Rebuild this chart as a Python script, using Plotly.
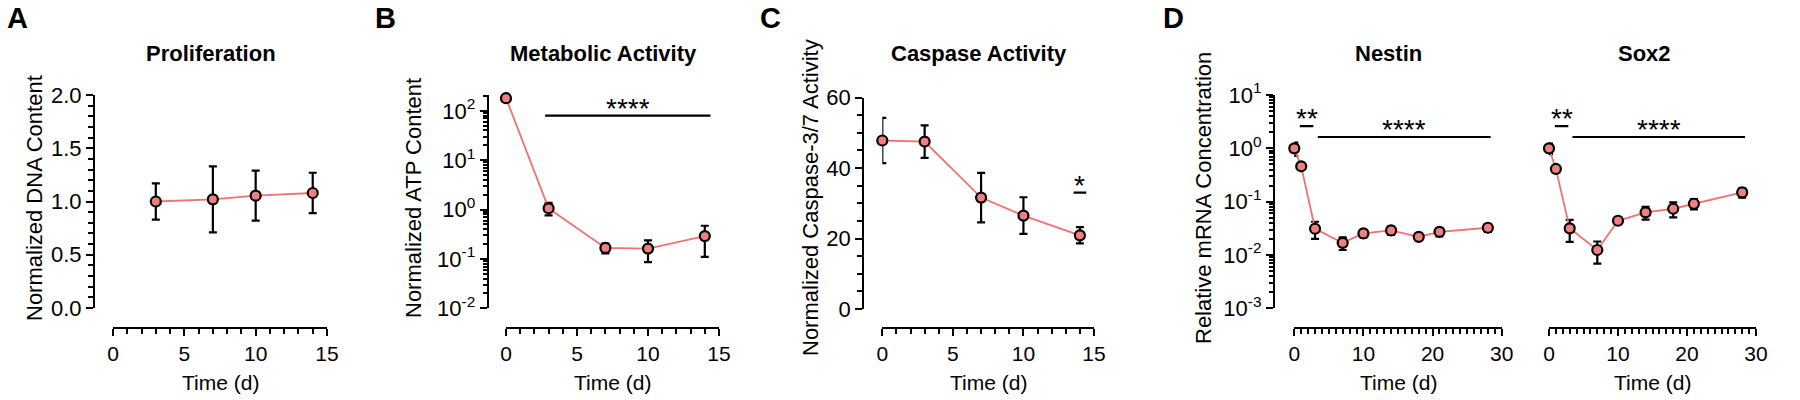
import numpy as np
import plotly.graph_objects as go

# ---------------- data ----------------
# Panel A - Proliferation
prolif_days = [3, 7, 10, 14]
prolif_mean = [1.00, 1.02, 1.055, 1.08]
prolif_sd = [0.17, 0.31, 0.235, 0.19]

# Panel B - Metabolic activity (ATP)
atp_days = [0, 3, 7, 10, 14]
atp_mean = [180, 1.06, 0.167, 0.162, 0.29]
atp_sd = [8, 0.30, 0.037, 0.076, 0.18]

# Panel C - Caspase activity
casp_days = [0, 3, 7, 10, 14]
casp_mean = [47.8, 47.5, 31.6, 26.5, 20.9]
casp_sd = [6.4, 4.6, 7.0, 5.2, 2.3]

# Panel D - mRNA
mrna_days = [0, 1, 3, 7, 10, 14, 18, 21, 28]
nestin_mean = [1.0, 0.46, 0.031, 0.0169, 0.0254, 0.0289, 0.0219, 0.0272, 0.0324]
nestin_sd = [0.28, 0.03, 0.011, 0.0045, 0.004, 0.005, 0.0015, 0.0048, 0.0054]
sox2_mean = [1.0, 0.41, 0.0316, 0.0124, 0.0438, 0.063, 0.0736, 0.0914, 0.149]
sox2_sd = [0.22, 0.03, 0.014, 0.0055, 0.003, 0.017, 0.023, 0.02, 0.03]

# significance bars
sig_panel = ["B", "C", "Nestin", "Nestin", "Sox2", "Sox2"]
sig_x0 = [2.75, 13.55, 0.8, 3.4, 0.85, 3.4]
sig_x1 = [14.4, 14.45, 2.75, 28.4, 2.8, 28.4]
sig_y = [80, 33, 2.6, 1.63, 2.6, 1.63]
sig_label = ["****", "*", "**", "****", "**", "****"]

log_ticks = [1e-3, 1e-2, 1e-1, 1, 10, 100]
log_ticktext = ["10<sup>-3</sup>", "10<sup>-2</sup>", "10<sup>-1</sup>",
                "10<sup>0</sup>", "10<sup>1</sup>", "10<sup>2</sup>"]

# ---------------- style ----------------
W, H = 1800, 400
FONT = "Liberation Sans, Arial, sans-serif"
LINE_COL = "#F07272"
FILL_COL = "#F08080"


def fx(p):
    return p / W


def fy(p):
    return 1 - p / H


fig = go.Figure()


def add_series(x, y, e, xa, ya):
    fig.add_trace(go.Scatter(
        x=x, y=y, xaxis=xa, yaxis=ya, mode="lines+markers",
        line=dict(color=LINE_COL, width=1.8),
        marker=dict(size=10, color=FILL_COL, line=dict(color="black", width=2.2)),
        error_y=dict(type="data", array=e, visible=True, color="black",
                     thickness=2.2, width=4),
        cliponaxis=False, showlegend=False, hoverinfo="x+y"))


add_series(prolif_days, prolif_mean, prolif_sd, "x", "y")
add_series(atp_days, atp_mean, atp_sd, "x2", "y2")
add_series(casp_days, casp_mean, casp_sd, "x3", "y3")
add_series(mrna_days, nestin_mean, nestin_sd, "x4", "y4")
add_series(mrna_days, sox2_mean, sox2_sd, "x5", "y4")

panel_axes = {"B": ("x2", "y2", True), "C": ("x3", "y3", False),
              "Nestin": ("x4", "y4", True), "Sox2": ("x5", "y4", True)}

annotations = []
for p, x0, x1, yv, lab in zip(sig_panel, sig_x0, sig_x1, sig_y, sig_label):
    xa, ya, islog = panel_axes[p]
    fig.add_trace(go.Scatter(x=[x0, x1], y=[yv, yv], xaxis=xa, yaxis=ya,
                             mode="lines", line=dict(color="black", width=2.2),
                             cliponaxis=False, showlegend=False, hoverinfo="skip"))
    annotations.append(dict(
        x=(x0 + x1) / 2, y=np.log10(yv) if islog else yv,
        xref=xa, yref=ya, text=lab, showarrow=False,
        xanchor="center", yanchor="bottom", yshift=-10,
        font=dict(family=FONT, size=28, color="black")))

axis_common = dict(showline=True, linecolor="black", linewidth=2.2,
                   ticks="outside", ticklen=7, tickwidth=2.2, tickcolor="black",
                   showgrid=False, zeroline=False, anchor="free", automargin=False,
                   tickfont=dict(family=FONT, size=22, color="black"))

MINOR = dict(ticks="outside", ticklen=5, tickwidth=2, tickcolor="black")


def xaxis(d0, d1, rng, dtick, mdtick):
    a = dict(axis_common)
    a.update(domain=[fx(d0), fx(d1)], range=rng, position=fy(328),
             tickmode="linear", tick0=0, dtick=dtick,
             tickfont=dict(family=FONT, size=21, color="black"),
             minor=dict(MINOR, dtick=mdtick, tick0=0))
    return a


def ylin(d0, d1, pos, rng, dtick, mdtick, fmt):
    a = dict(axis_common)
    a.update(domain=[fy(d1), fy(d0)], range=rng, position=fx(pos),
             tickmode="linear", tick0=0, dtick=dtick, tickformat=fmt,
             minor=dict(MINOR, dtick=mdtick, tick0=0))
    return a


def ylog(d0, d1, pos, rng):
    lo, hi = rng
    tv = [t for t in log_ticks if lo - 1e-9 <= np.log10(t) <= hi + 1e-9]
    tt = [log_ticktext[log_ticks.index(t)] for t in tv]
    a = dict(axis_common)
    a.update(domain=[fy(d1), fy(d0)], range=rng, type="log", position=fx(pos),
             tickmode="array", tickvals=tv, ticktext=tt,
             minor=dict(MINOR, ticklen=4, tickwidth=1.6, tickmode="linear", dtick="D1"))
    return a


layout_axes = dict(
    xaxis=xaxis(113, 327, [0, 15], 5, 1),
    yaxis=ylin(95, 308, 94, [0, 2], 0.5, 0.1, ".1f"),
    xaxis2=xaxis(506, 719, [0, 15], 5, 1),
    yaxis2=ylog(95, 308.3, 487.7, [-2, 2.32]),
    xaxis3=xaxis(882.3, 1094, [0, 15], 5, 1),
    yaxis3=ylin(97.5, 309, 863.3, [0, 60], 20, 5, "d"),
    xaxis4=xaxis(1294.3, 1501.7, [0, 30], 10, 1),
    yaxis4=ylog(95, 308.3, 1274, [-3, 1]),
    xaxis5=xaxis(1549, 1756, [0, 30], 10, 1),
)


def text_ann(x, y, text, size, bold=False, angle=0):
    return dict(x=fx(x), y=fy(y), xref="paper", yref="paper", text=text,
                showarrow=False, xanchor="center", yanchor="middle",
                textangle=angle,
                font=dict(family=FONT, size=size, color="black",
                          weight="bold" if bold else "normal"))


# panel letters
for letter, lx in zip(["A", "B", "C", "D"], [17, 385, 770, 1173]):
    annotations.append(text_ann(lx, 18, letter, 29, bold=True))

# panel titles
for t, cx in zip(["Proliferation", "Metabolic Activity", "Caspase Activity", "Nestin", "Sox2"],
                 [210.5, 603.4, 978.7, 1388, 1644]):
    annotations.append(text_ann(cx, 53, t, 22, bold=True))

# y titles
for t, cx in zip(["Normalized DNA Content", "Normalized ATP Content",
                  "Normalized Caspase-3/7 Activity", "Relative mRNA Concentration"],
                 [34, 413, 810, 1203]):
    annotations.append(text_ann(cx, 198, t, 22, angle=-90))

# x titles
for cx in [220, 612.5, 988, 1398, 1652.5]:
    annotations.append(text_ann(cx, 382, "Time (d)", 21))

fig.update_layout(
    width=W, height=H,
    margin=dict(l=0, r=0, t=0, b=0, autoexpand=False),
    paper_bgcolor="white", plot_bgcolor="white",
    showlegend=False,
    annotations=annotations,
    **layout_axes)

fig.write_html("out.html", config={"displayModeBar": False},
               post_script="document.body.style.margin='0';document.body.style.overflow='hidden';")
